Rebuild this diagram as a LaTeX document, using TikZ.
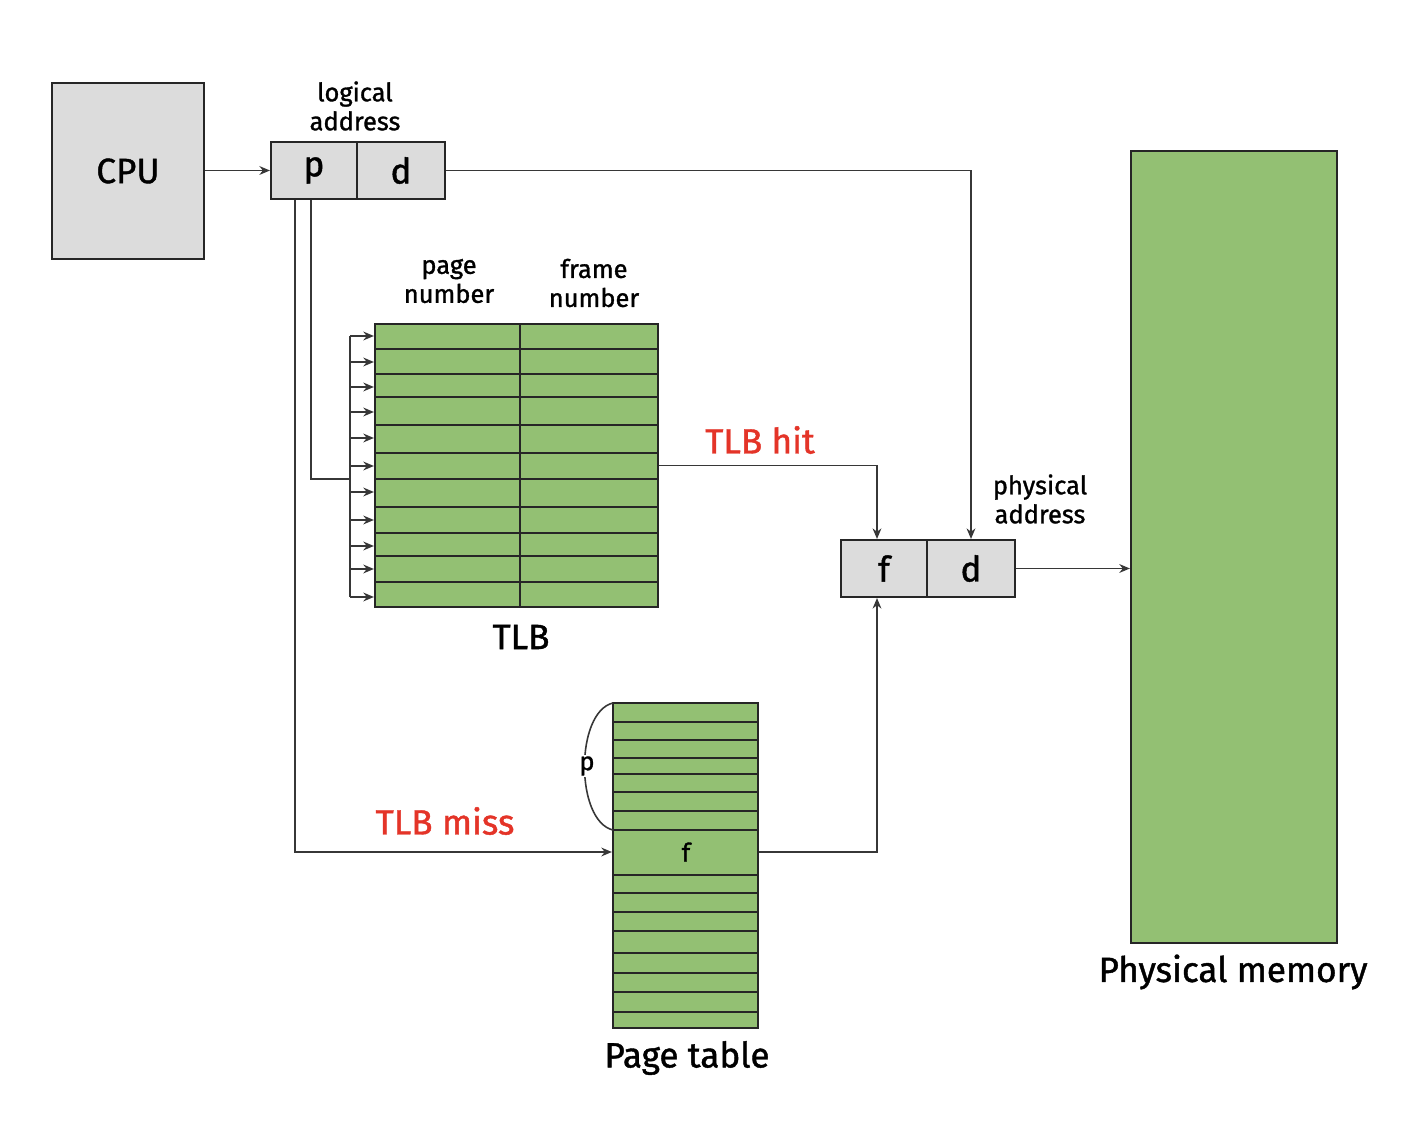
\documentclass[tikz,border=0pt]{standalone}
\usepackage{fontspec}
\setmainfont{Fira Sans}[FakeBold=1.2]
\usetikzlibrary{arrows.meta,calc}
\definecolor{boxgrey}{RGB}{220,220,220}
\definecolor{memgreen}{RGB}{147,192,115}
\definecolor{hitred}{RGB}{228,52,40}
\definecolor{linegrey}{RGB}{55,55,55}
\tikzset{
  box/.style={draw=black!85, line width=1.2pt, fill=boxgrey, inner sep=0pt},
  greenbox/.style={draw=black!85, line width=1.3pt, fill=memgreen, inner sep=0pt},
  conn/.style={draw=linegrey, line width=0.9pt},
  arr/.style={conn, -{Stealth[length=6pt,width=5pt]}},
  small/.style={font=\fontsize{14.5}{16.5}\selectfont, align=center},
  big/.style={font=\fontsize{20}{24}\selectfont},
  redlbl/.style={font=\fontsize{20}{24}\selectfont, text=hitred},
  rowline/.style={draw=black!85, line width=1.1pt}
}
\begin{document}
\begin{tikzpicture}[x=0.02cm,y=-0.02cm]
\useasboundingbox[fill=white] (0,0) rectangle (1428,1124);
% CPU
\node[box, minimum width=3.04cm, minimum height=3.52cm, big] (cpu) at (128,171) {CPU};
% logical address
\node[box, minimum width=1.72cm, minimum height=1.14cm, big] (lp) at (314,170.5) {p};
\node[box, minimum width=1.76cm, minimum height=1.14cm, big] (ld) at (401,170.5) {d};
\node[small] (lal) at (355,106) {logical\\address};
% TLB
\node[greenbox, minimum width=5.66cm, minimum height=5.66cm] (tlb) at (516.5,465.5) {};
\foreach \yy in {349,374,397,425,453,479,507,533,556,582}
  \draw[rowline] (375,\yy) -- (658,\yy);
\draw[rowline] (520,324) -- (520,607);
\node[small] (pnl) at (449,281) {page\\number};
\node[small] (fnl) at (594,283) {frame\\number};
\node[big] (tlbl) at (521,637) {TLB};
% physical address
\node[box, minimum width=1.72cm, minimum height=1.14cm, big] (pf) at (884,568.5) {f};
\node[box, minimum width=1.76cm, minimum height=1.14cm, big] (pd) at (971,568.5) {d};
\node[small] (pal) at (1040,499) {physical\\address};
% memory
\node[greenbox, minimum width=4.12cm, minimum height=15.84cm] (mem) at (1234,547) {};
\node[big] (meml) at (1233,972) {Physical memory};
% page table
\node[greenbox, minimum width=2.9cm, minimum height=6.5cm] (pt) at (685.5,865.5) {};
\foreach \yy in {722,740,758,774,792,811,830,875,893,912,931,953,973,992,1012}
  \draw[rowline] (613,\yy) -- (758,\yy);
\node[small] (fcell) at (686,852) {f};
\node[big] (ptl) at (687,1058) {Page table};
% p arc
\coordinate (arcA) at (613,703);
\coordinate (arcB) at (613,830);
\draw[draw=linegrey, line width=0.9pt] (arcA) .. controls (575,712) and (575,821) .. (arcB);
\node[small, fill=white, inner sep=1pt] (parc) at (587,766) {p};
% labels
\node[redlbl] (hitl) at (760,440) {TLB hit};
\node[redlbl] (missl) at (445,821) {TLB miss};
% connectors
\coordinate (pl1) at ($(lp.south)+(-19,0)$);
\coordinate (pl2) at ($(lp.south)+(-3,0)$);
\coordinate (brk) at (350,479);
\draw[arr] (cpu.east |- lp.west) -- (lp.west);
\draw[conn] (pl2) |- (brk);
\draw[conn] (350,336) -- (350,597);
\foreach \yy in {336,362,387,412,438,466,492,520,546,569,597}
  \draw[arr] (350,\yy) -- (tlb.west |- 0,\yy);
\draw[arr] (tlb.east) -| ($(pf.north)+(-7,0)$);
\draw[arr] (ld.east) -| (pd.north);
\draw[arr] (pd.east) -- (pd.east -| mem.west);
\draw[arr] (pl1) |- (fcell -| pt.west);
\draw[arr] (fcell -| pt.east) -| ($(pf.south)+(-7,0)$);
\end{tikzpicture}
\end{document}
